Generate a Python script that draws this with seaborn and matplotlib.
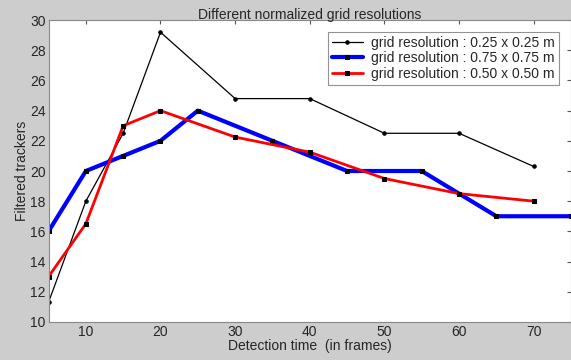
import numpy as np
import pandas as pd
import matplotlib
matplotlib.use('Agg')
import matplotlib.pyplot as plt
import seaborn as sns

# podaci ocitani sa slike
x_025 = [5, 10, 15, 20, 30, 40, 50, 60, 70]
y_025 = [11.3, 18.0, 22.5, 29.2, 24.8, 24.8, 22.5, 22.5, 20.3]
x_075 = [5, 10, 15, 20, 25, 35, 45, 55, 65, 75]
y_075 = [16.0, 20.0, 21.0, 22.0, 24.0, 22.0, 20.0, 20.0, 17.0, 17.0]
x_050 = [5, 10, 15, 20, 30, 40, 50, 60, 70]
y_050 = [13.0, 16.5, 23.0, 24.0, 22.25, 21.25, 19.5, 18.5, 18.0]
labels = ['grid resolution : 0.25 x 0.25 m',
          'grid resolution : 0.75 x 0.75 m',
          'grid resolution : 0.50 x 0.50 m']

sns.set_style('white')
plt.rcParams['font.family'] = ['Liberation Sans', 'DejaVu Sans']

fig = plt.figure(figsize=(5.71, 3.6), dpi=100, facecolor='#cdcdcd')
ax = fig.add_axes([0.085, 0.106, 0.915, 0.838])
ax.set_facecolor('white')

df1 = pd.DataFrame({'x': x_025, 'y': y_025})
df2 = pd.DataFrame({'x': x_075, 'y': y_075})
df3 = pd.DataFrame({'x': x_050, 'y': y_050})

sns.lineplot(data=df1, x='x', y='y', ax=ax, color='black', linewidth=0.9,
             marker='o', markersize=2.5, markeredgecolor='black', label=labels[0])
sns.lineplot(data=df2, x='x', y='y', ax=ax, color='#0000ff', linewidth=3,
             marker='s', markersize=3.5, markerfacecolor='black', markeredgecolor='black', label=labels[1])
sns.lineplot(data=df3, x='x', y='y', ax=ax, color='#ff0000', linewidth=2,
             marker='s', markersize=3, markerfacecolor='black', markeredgecolor='black', label=labels[2])

ax.set_xlim(5, 75)
ax.set_ylim(10, 30)
ax.set_xticks(np.arange(10, 71, 10))
ax.set_yticks(np.arange(10, 31, 2))
ax.tick_params(direction='in', length=3, labelsize=10, top=True, right=True,
               labelright=False, labeltop=False, color='#555555', pad=2)
for s in ax.spines.values():
    s.set_color('#888888')
    s.set_linewidth(0.8)

ax.set_xlabel('Detection time  (in frames)', fontsize=10, labelpad=0)
ax.set_ylabel('Filtered trackers', fontsize=10, labelpad=1)
ax.set_title('Different normalized grid resolutions', fontsize=10, pad=1)

leg = ax.legend(loc='upper right', bbox_to_anchor=(0.99, 0.985), fontsize=10,
                frameon=True, fancybox=False, borderpad=0.3, labelspacing=0.1,
                handlelength=2.2, handletextpad=0.6)
leg.get_frame().set_edgecolor('#777777')
leg.get_frame().set_linewidth(0.8)

fig.savefig('out.png', dpi=100, facecolor=fig.get_facecolor())
